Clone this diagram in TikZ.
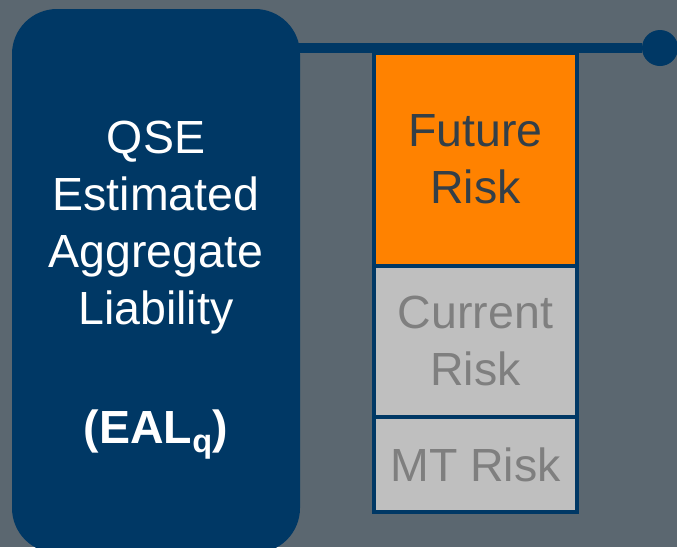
\documentclass[tikz,border=0pt]{standalone}
\usepackage{fontspec}
\setmainfont{Liberation Sans}
\usetikzlibrary{positioning}
\definecolor{navy}{HTML}{003865}
\definecolor{slate}{HTML}{5B6770}
\definecolor{riskorange}{HTML}{FF8200}
\definecolor{riskgray}{HTML}{BFBFBF}
\definecolor{darktext}{HTML}{333F48}
\definecolor{greytext}{HTML}{7F7F7F}
\tikzstyle{liability} = [rectangle, rounded corners=45pt, minimum width=288pt, minimum height=544pt, inner sep=0pt, fill=navy]
\tikzstyle{bigtext} = [align=center, text=white, font=\fontsize{46.5}{57}\selectfont]
\tikzstyle{riskbox} = [rectangle,
minimum width=203pt,
inner sep=0pt, outer sep=0pt,
draw=navy, line width=4pt,
align=center,
font=\fontsize{46.5}{57}\selectfont]
\tikzstyle{enddot} = [circle, minimum size=36pt, inner sep=0pt, fill=navy]
\tikzstyle{link} = [navy, line width=10pt]

\begin{document}
\begin{tikzpicture}[x=1pt, y=-1pt]

\fill [slate] (0,0) rectangle (677,547);
\useasboundingbox (0,0) rectangle (677,547);

\node (eal) [liability] at (156,281) {};
\node (ealtext) [bigtext] at (156,290) {QSE\\Estimated\\Aggregate\\Liability\\[62pt]\textbf{(EAL\textsubscript{q})}};

\node (future) [riskbox, fill=riskorange, text=darktext, minimum height=212.5pt] at (475.5,159.25) {Future\\Risk};
\node (current) [riskbox, fill=riskgray, text=greytext, minimum height=151.5pt, below=0pt of future] {Current\\Risk};
\node (mt) [riskbox, fill=riskgray, text=greytext, minimum height=95pt, below=0pt of current] {MT Risk};

\node (knob) [enddot] at (660,48) {};
\draw [link] (eal |- knob) -- (knob);

\end{tikzpicture}
\end{document}
